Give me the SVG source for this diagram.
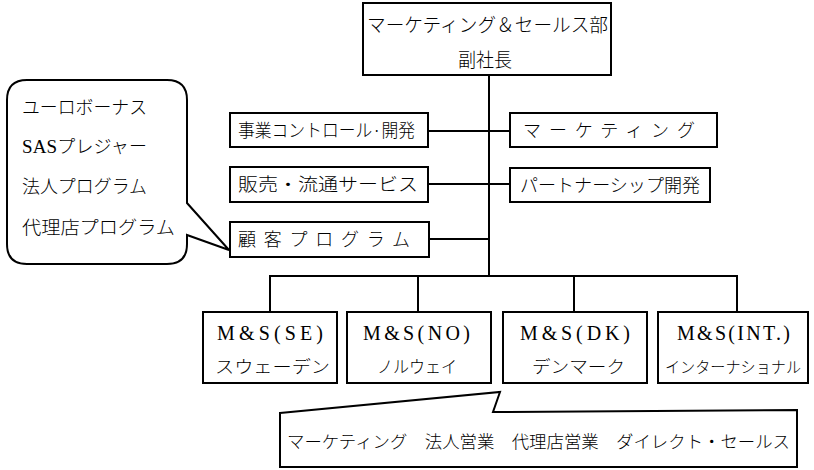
<svg xmlns="http://www.w3.org/2000/svg" width="814" height="470" viewBox="0 0 814 470">
<style>
  .box { fill: #fff; stroke: #000; stroke-width: 2; }
  .ln { fill: none; stroke: #000; stroke-width: 2; }
  text { font-family: "Noto Sans CJK JP", "Liberation Serif", serif; fill: #000; font-weight: 300; }
  .t18 { font-size: 18px; }
  .t17 { font-size: 17px; }
  .t19 { font-size: 19px; }
  .lat { font-size: 20px; font-family: "Liberation Serif", "Noto Sans CJK JP", serif; font-weight: 400; }
  .ser { font-family: "Liberation Serif", serif; font-weight: 400; }
</style>
<rect width="814" height="470" fill="#fff"/>

<g id="connectors">
  <line class="ln" x1="489" y1="75" x2="489" y2="276"/>
  <line class="ln" x1="428" y1="131" x2="510" y2="131"/>
  <line class="ln" x1="428" y1="184" x2="510" y2="184"/>
  <line class="ln" x1="429" y1="239" x2="489" y2="239"/>
  <polyline class="ln" points="270,312 270,276 737,276 737,312"/>
  <line class="ln" x1="418" y1="276" x2="418" y2="312"/>
  <line class="ln" x1="574" y1="276" x2="574" y2="312"/>
</g>

<g id="vp">
  <rect class="box" x="363" y="3" width="248" height="72"/>
  <text class="t19" x="367" y="32" textLength="241" lengthAdjust="spacingAndGlyphs">マーケティング＆セールス部</text>
  <text class="t19" x="458" y="67" textLength="54" lengthAdjust="spacingAndGlyphs">副社長</text>
</g>

<g id="biz-control">
  <rect class="box" x="230" y="113" width="198" height="34"/>
  <text class="t18" x="238" y="137" textLength="177" lengthAdjust="spacingAndGlyphs">事業コントロール·開発</text>
</g>

<g id="sales-dist">
  <rect class="box" x="230" y="167" width="198" height="35"/>
  <text class="t18" x="238" y="191" textLength="180" lengthAdjust="spacingAndGlyphs">販売・流通サービス</text>
</g>

<g id="customer-program">
  <rect class="box" x="230" y="222" width="199" height="35"/>
  <text class="t18" x="238" y="246" textLength="172" lengthAdjust="spacing">顧客プログラム</text>
</g>

<g id="marketing">
  <rect class="box" x="510" y="113" width="207" height="34"/>
  <text class="t18" x="523" y="137" textLength="172" lengthAdjust="spacing">マーケティング</text>
</g>

<g id="partnership">
  <rect class="box" x="510" y="168" width="200" height="34"/>
  <text class="t18" x="520" y="192" textLength="180" lengthAdjust="spacingAndGlyphs">パートナーシップ開発</text>
</g>

<g id="callout-programs">
  <path class="ln" fill="#fff" d="M27,80 L167,80 Q187,80 187,100 L187,203 L229,250 L187,235 L187,244 Q187,264 167,264 L27,264 Q7,264 7,244 L7,100 Q7,80 27,80 Z"/>
  <text class="t18" x="22" y="114" textLength="125" lengthAdjust="spacingAndGlyphs">ユーロボーナス</text>
  <text class="t18" x="22" y="153" textLength="125" lengthAdjust="spacing"><tspan class="ser" font-size="19">SAS</tspan>プレジャー</text>
  <text class="t18" x="22" y="193" textLength="125" lengthAdjust="spacingAndGlyphs">法人プログラム</text>
  <text class="t18" x="22" y="234" textLength="153" lengthAdjust="spacingAndGlyphs">代理店プログラム</text>
</g>

<g id="ms-se">
  <rect class="box" x="203" y="312" width="134" height="71"/>
  <text class="lat" x="217" y="340" textLength="106" lengthAdjust="spacing">M&amp;S(SE)</text>
  <text class="t17" x="215" y="373" textLength="115" lengthAdjust="spacingAndGlyphs">スウェーデン</text>
</g>

<g id="ms-no">
  <rect class="box" x="347" y="312" width="144" height="71"/>
  <text class="lat" x="363" y="340" textLength="107" lengthAdjust="spacing">M&amp;S(NO)</text>
  <text class="t17" x="377" y="373" textLength="80" lengthAdjust="spacingAndGlyphs">ノルウェイ</text>
</g>

<g id="ms-dk">
  <rect class="box" x="503" y="312" width="144" height="71"/>
  <text class="lat" x="520" y="340" textLength="110" lengthAdjust="spacing">M&amp;S(DK)</text>
  <text class="t17" x="532" y="373" textLength="93" lengthAdjust="spacingAndGlyphs">デンマーク</text>
</g>

<g id="ms-int">
  <rect class="box" x="658" y="312" width="150" height="71"/>
  <text class="lat" x="677" y="340" textLength="113" lengthAdjust="spacing">M&amp;S(INT.)</text>
  <text x="665" y="373" font-size="15.5" textLength="136" lengthAdjust="spacingAndGlyphs">インターナショナル</text>
</g>

<g id="callout-functions">
  <path class="ln" fill="#fff" d="M280,413 L500,392 L493,412 L797,410 L797,467 L280,467 Z"/>
  <text class="t17" x="287" y="448" textLength="503" lengthAdjust="spacingAndGlyphs">マーケティング　法人営業　代理店営業　ダイレクト・セールス</text>
</g>
</svg>
